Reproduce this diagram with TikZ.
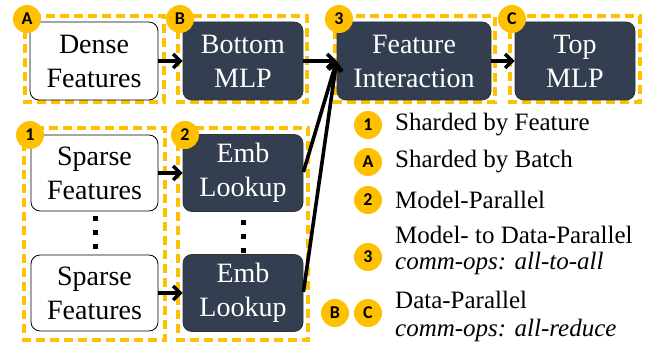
\documentclass[tikz,border=0pt]{standalone}
\usepackage{fontspec}
\setmainfont{Liberation Serif}
\newfontfamily\circfont{Carlito}
\usetikzlibrary{arrows.meta}
\definecolor{gold}{HTML}{FFC000}
\definecolor{slate}{HTML}{333F50}
\begin{document}
\begin{tikzpicture}[x=1pt,y=-1pt,
  boxtext/.style={font=\fontsize{28}{34}\selectfont, align=center, inner sep=0pt},
  lightbox/.style={boxtext, draw=black, line width=0.8pt, fill=white, rounded corners=9pt},
  darkbox/.style={boxtext, draw=black!80, line width=0.8pt, fill=slate, text=white, rounded corners=9pt},
  group/.style={draw=gold, line width=3.5pt, dash pattern=on 9pt off 5pt},
  badge/.style={circle, fill=gold, minimum size=28pt, inner sep=0pt, font=\circfont\bfseries\fontsize{18}{18}\selectfont},
  legtext/.style={anchor=west, inner sep=0pt, font=\fontsize{25}{28}\selectfont},
  arr/.style={line width=3.6pt, -{Straight Barb[length=7pt,width=14pt,line width=3.6pt]}},
  dotsq/.style={fill=black}
]
\useasboundingbox (0,0) rectangle (654,345);
\fill[white] (0,0) rectangle (654,345);

% dashed groups
\draw[group] (25,16) rectangle (164,102);
\draw[group] (178,16) rectangle (307,102);
\draw[group] (335,16) rectangle (495,102);
\draw[group] (510,16) rectangle (640,102);
\draw[group] (24,128) rectangle (165,340);
\draw[group] (178,128) rectangle (308,340);

% boxes
\node[lightbox, minimum width=128pt, minimum height=78pt] (dense) at (94,61) {Dense\\Features};
\node[darkbox, minimum width=120pt, minimum height=78pt] (bottom) at (243,61) {Bottom\\MLP};
\node[darkbox, minimum width=154pt, minimum height=78pt] (fi) at (414,61) {Feature\\Interaction};
\node[darkbox, minimum width=120pt, minimum height=78pt] (top) at (575,61) {Top\\MLP};
\node[lightbox, minimum width=127pt, minimum height=76pt] (sp1) at (94.5,173) {Sparse\\Features};
\node[lightbox, minimum width=127pt, minimum height=76pt] (sp2) at (94.5,293) {Sparse\\Features};
\node[darkbox, minimum width=120pt, minimum height=77pt] (emb1) at (243,173) {Emb\\Lookup};
\node[darkbox, minimum width=120pt, minimum height=77pt] (emb2) at (243,293) {Emb\\Lookup};

% vertical dots
\foreach \yy in {218,232,246} {
  \fill[dotsq] (92.5,\yy-2.5) rectangle (97.5,\yy+2.5);
  \fill[dotsq] (240.5,\yy+1.5) rectangle (245.5,\yy+6.5);
}

% arrows
\coordinate (fiin) at (fi.west);
\draw[arr] (dense.east) -- (bottom.west);
\draw[arr] (bottom.east) -- (fiin);
\draw[arr] (fi.east) -- (top.west);
\draw[arr] (sp1.east) -- (emb1.west);
\draw[arr] (sp2.east) -- (emb2.west);
\draw[arr] (emb1.east) ++(0,-1) coordinate (e1) (e1) -- (fiin);
\draw[arr] (emb2.east) ++(0,-1) coordinate (e2) (e2) -- (fiin);

% badges on groups
\node[badge] (bA) at (27,19) {A};
\node[badge] (bB) at (180,19) {B};
\node[badge] (b3) at (339,19) {3};
\node[badge] (bC) at (512,19) {C};
\node[badge] (b1) at (30,135) {1};
\node[badge] (b2) at (185,135) {2};

% legend
\node[badge] (l1) at (368,125) {1};
\node[legtext] (t1) at (395,125) {Sharded by Feature};
\node[badge] (lA) at (368,162) {A};
\node[legtext] (tA) at (395,162) {Sharded by Batch};
\node[badge] (l2) at (368,200) {2};
\node[legtext] (t2) at (395,200) {Model-Parallel};
\node[badge] (l3) at (368,257) {3};
\node[legtext] (t3a) at (395,235) {Model- to Data-Parallel};
\node[legtext] (t3b) at (395,263) {\itshape comm-ops: all-to-all};
\node[badge] (lB) at (335,313) {B};
\node[badge] (lC) at (368,313) {C};
\node[legtext] (tBa) at (395,300) {Data-Parallel};
\node[legtext] (tBb) at (395,330) {\itshape comm-ops: all-reduce};
\end{tikzpicture}
\end{document}
